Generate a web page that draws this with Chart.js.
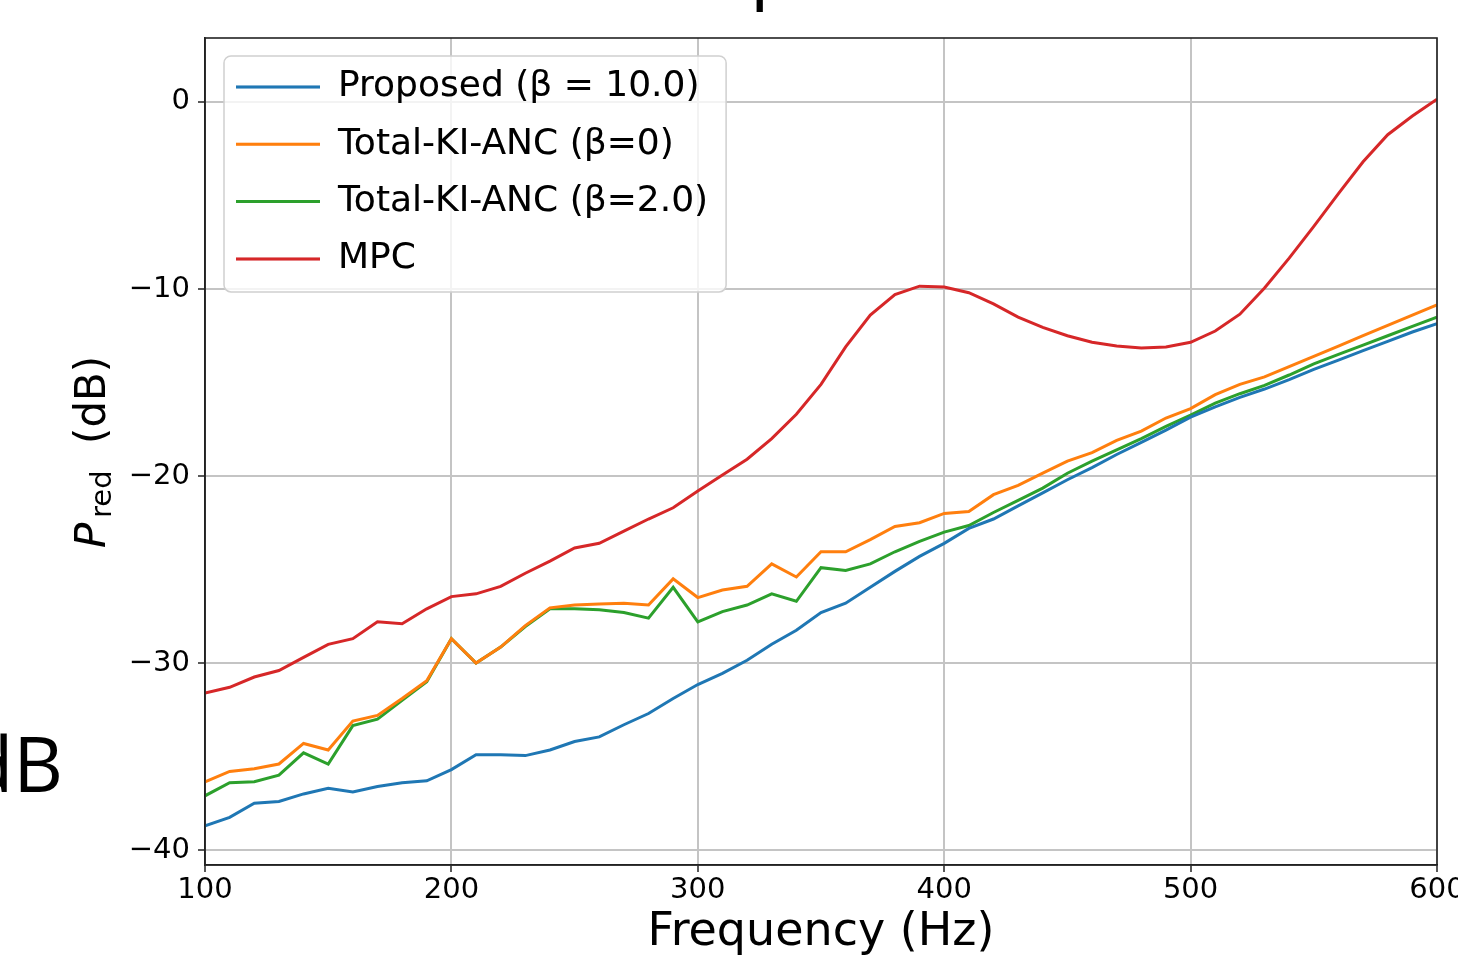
<!DOCTYPE html>
<html><head><meta charset="utf-8">
<script src="https://cdn.jsdelivr.net/npm/chart.js@4.4.1/dist/chart.umd.min.js"></script>
<style>html,body{margin:0;padding:0;background:#fff;}#wrap{width:1458px;height:961px;}</style>
</head><body><div id="wrap"><canvas id="c" width="1458" height="961"></canvas></div>
<script>
const freqs = [100,110,120,130,140,150,160,170,180,190,200,210,220,230,240,250,260,270,280,290,300,310,320,330,340,350,360,370,380,390,400,410,420,430,440,450,460,470,480,490,500,510,520,530,540,550,560,570,580,590,600];
const proposed = [-38.7,-38.25,-37.5,-37.4,-37.0,-36.7,-36.9,-36.6,-36.4,-36.3,-35.7,-34.9,-34.9,-34.95,-34.65,-34.2,-33.95,-33.3,-32.7,-31.9,-31.15,-30.55,-29.85,-29.0,-28.25,-27.3,-26.8,-25.95,-25.1,-24.3,-23.6,-22.8,-22.3,-21.6,-20.9,-20.2,-19.55,-18.85,-18.2,-17.55,-16.85,-16.3,-15.8,-15.35,-14.85,-14.3,-13.8,-13.3,-12.8,-12.3,-11.85];
const klBeta0 = [-36.35,-35.8,-35.65,-35.4,-34.3,-34.65,-33.1,-32.8,-31.9,-30.95,-28.7,-30.0,-29.15,-28.0,-27.05,-26.9,-26.85,-26.8,-26.9,-25.5,-26.5,-26.1,-25.9,-24.7,-25.4,-24.05,-24.05,-23.4,-22.7,-22.5,-22.0,-21.9,-21.0,-20.5,-19.85,-19.2,-18.75,-18.1,-17.6,-16.9,-16.4,-15.65,-15.1,-14.7,-14.15,-13.6,-13.05,-12.5,-11.95,-11.4,-10.85];
const klBeta2 = [-37.1,-36.4,-36.35,-36.0,-34.8,-35.4,-33.35,-33.0,-32.0,-31.0,-28.7,-30.0,-29.15,-28.05,-27.1,-27.1,-27.15,-27.3,-27.6,-25.95,-27.8,-27.25,-26.9,-26.3,-26.7,-24.9,-25.05,-24.7,-24.05,-23.5,-23.0,-22.65,-21.95,-21.3,-20.65,-19.85,-19.2,-18.6,-18.0,-17.35,-16.75,-16.1,-15.6,-15.15,-14.6,-14.0,-13.5,-13.0,-12.5,-12.0,-11.5];
const mpc = [-31.6,-31.3,-30.75,-30.4,-29.7,-29.0,-28.7,-27.8,-27.9,-27.1,-26.45,-26.3,-25.9,-25.2,-24.55,-23.85,-23.6,-22.95,-22.3,-21.7,-20.8,-19.95,-19.1,-18.0,-16.7,-15.1,-13.1,-11.4,-10.3,-9.85,-9.9,-10.2,-10.8,-11.5,-12.05,-12.5,-12.85,-13.05,-13.15,-13.1,-12.85,-12.25,-11.35,-9.95,-8.35,-6.65,-4.9,-3.2,-1.75,-0.75,0.15];
const seriesLabels = ['Proposed (β = 10.0)', 'Total-KI-ANC (β=0)', 'Total-KI-ANC (β=2.0)', 'MPC'];
const seriesColors = ['#1f77b4', '#ff7f0e', '#2ca02c', '#d62728'];
const xTicks = [100, 200, 300, 400, 500, 600];
const yTicks = [-40, -30, -20, -10, 0];
const xTitle = 'Frequency (Hz)';

const FONT = '"DejaVu Sans", sans-serif';
const LEG_FS = 36, LEG_PAD = 21.3, LEG_BW = 84;
const allSeries = [proposed, klBeta0, klBeta2, mpc];

const framePlugin = {
  id: 'extras',
  afterLayout(chart) {
    const L = chart.legend, a = chart.chartArea;
    const dy = a.top + 9.7 - L.top;
    const dx = a.left + 9.7 - L.left;
    L.left += dx; L.right += dx; L.top += dy; L.bottom += dy;
  },
  afterDatasetsDraw(chart) {
    const ctx = chart.ctx, L = chart.legend;
    ctx.save();
    ctx.font = LEG_FS + 'px ' + FONT;
    let maxW = 0;
    seriesLabels.forEach(t => { maxW = Math.max(maxW, ctx.measureText(t).width); });
    const c1 = L.top + LEG_PAD + LEG_FS / 2;
    const cN = c1 + (seriesLabels.length - 1) * (LEG_FS + LEG_PAD);
    const x0 = L.left + LEG_PAD - 12;
    const y0 = c1 - 31;
    const x1 = L.left + LEG_PAD + LEG_BW + LEG_FS / 2 + maxW + 18;
    const y1 = cN + 33;
    ctx.beginPath();
    ctx.roundRect(x0, y0, x1 - x0, y1 - y0, 7);
    ctx.fillStyle = 'rgba(255,255,255,0.8)';
    ctx.fill();
    ctx.lineWidth = 1.5;
    ctx.strokeStyle = '#d0d0d0';
    ctx.stroke();
    ctx.restore();
    L.draw();
  },
  afterDraw(chart) {
    const ctx = chart.ctx, a = chart.chartArea;
    ctx.save();
    ctx.strokeStyle = '#222';
    ctx.lineWidth = 1.6;
    ctx.strokeRect(a.left, a.top, a.right - a.left, a.bottom - a.top);
    // y axis title: P_red (dB)
    ctx.translate(105, 548);
    ctx.rotate(-Math.PI / 2);
    ctx.fillStyle = '#000';
    ctx.textBaseline = 'alphabetic';
    ctx.textAlign = 'left';
    ctx.font = 'oblique 42px ' + FONT;
    ctx.fillText('P', 0, 0);
    ctx.font = '29px ' + FONT;
    ctx.fillText('red', 30, 6);
    ctx.font = '42px ' + FONT;
    ctx.fillText('(dB)', 104, 0);
    ctx.restore();
    // cropped fragments of surrounding slide text
    ctx.save();
    ctx.fillStyle = '#000';
    ctx.font = '77px "Open Sans", sans-serif';
    ctx.textAlign = 'right';
    ctx.textBaseline = 'alphabetic';
    ctx.fillText('dB', 63, 792);
    ctx.textAlign = 'left';
    ctx.fillText('p', 750, -6);
    ctx.restore();
  }
};

new Chart(document.getElementById('c'), {
  type: 'line',
  data: {
    datasets: allSeries.map((s, i) => ({
      label: seriesLabels[i],
      data: freqs.map((f, j) => ({ x: f, y: s[j] })),
      borderColor: seriesColors[i],
      backgroundColor: seriesColors[i],
      borderWidth: 3,
      pointRadius: 0,
      tension: 0,
      fill: false
    }))
  },
  options: {
    responsive: false,
    devicePixelRatio: 1,
    animation: false,
    layout: { padding: { top: 38, right: 21, left: 0, bottom: 0 } },
    plugins: {
      tooltip: { enabled: false },
      legend: {
        position: 'chartArea',
        align: 'start',
        labels: {
          font: { family: FONT, size: LEG_FS },
          color: '#000',
          padding: LEG_PAD,
          usePointStyle: true,
          pointStyle: 'line',
          boxWidth: LEG_BW,
          pointStyleWidth: LEG_BW
        }
      }
    },
    scales: {
      x: {
        type: 'linear',
        min: 100, max: 600,
        afterBuildTicks: s => { s.ticks = xTicks.map(v => ({ value: v })); },
        afterFit: s => { s.height = 96; s.paddingLeft = 0; s.paddingRight = 0; },
        ticks: { font: { family: FONT, size: 29 }, color: '#000', padding: 1, maxRotation: 0, autoSkip: false, callback: v => String(v) },
        grid: { color: '#c4c4c4', lineWidth: 2, tickColor: '#222', tickLength: 7, tickWidth: 1.5 },
        border: { display: true, color: '#222', width: 1.6 },
        title: { display: true, text: xTitle, font: { family: FONT, size: 46 }, color: '#000', padding: { top: 0, bottom: 0 } }
      },
      y: {
        type: 'linear',
        min: -40.8, max: 3.42,
        afterBuildTicks: s => { s.ticks = yTicks.map(v => ({ value: v })); },
        afterFit: s => { s.width = 205; s.paddingTop = 0; s.paddingBottom = 0; },
        ticks: { font: { family: FONT, size: 29 }, color: '#000', padding: 8, autoSkip: false, callback: v => (v < 0 ? '\u2212' : '') + Math.abs(v) },
        grid: { color: '#c4c4c4', lineWidth: 2, tickColor: '#222', tickLength: 7, tickWidth: 1.5 },
        border: { display: true, color: '#222', width: 1.6 }
      }
    }
  },
  plugins: [framePlugin]
});
</script></body></html>
